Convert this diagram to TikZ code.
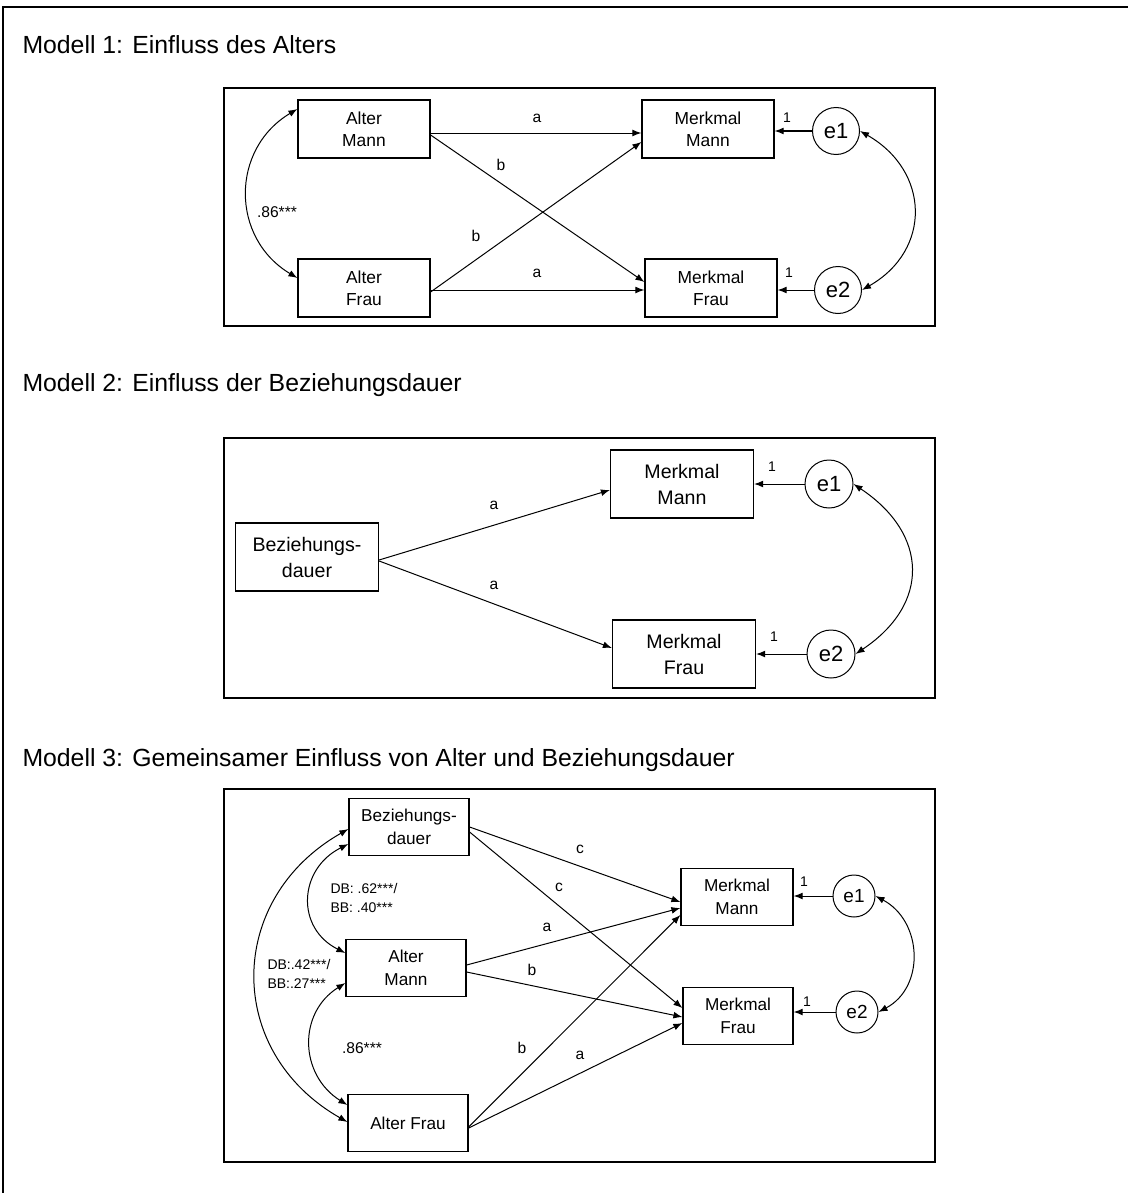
\documentclass[tikz,border=0pt]{standalone}
\usepackage{fontspec}
\setmainfont{Liberation Sans}
\usetikzlibrary{arrows.meta}

\begin{document}
\begin{tikzpicture}[x=0.5pt,y=-0.5pt,line width=0.5pt,
    >={Latex[length=4.5pt,width=3.4pt]},
    frame/.style={line width=1pt},
    titel/.style={anchor=west,inner sep=0pt,font=\fontsize{12.4}{14}\selectfont},
    kasten/.style={draw,line width=0.6pt,align=center,inner sep=0pt},
    boxa/.style={kasten,minimum width=66pt,minimum height=29pt,font=\fontsize{8.7}{11}\selectfont},
    boxb/.style={kasten,minimum width=71.5pt,minimum height=34pt,font=\fontsize{9.8}{13}\selectfont},
    boxc/.style={kasten,minimum width=60pt,minimum height=28.5pt,font=\fontsize{8.6}{11.5}\selectfont},
    erra/.style={draw,circle,inner sep=0pt,minimum size=23.5pt,font=\fontsize{11}{13}\selectfont},
    errb/.style={erra,minimum size=24pt},
    errc/.style={erra,minimum size=21pt,font=\fontsize{9.5}{11}\selectfont},
    lab/.style={inner sep=0pt,font=\fontsize{7.8}{9}\selectfont},
    eins/.style={inner sep=0pt,font=\fontsize{7}{8}\selectfont},
    korr/.style={anchor=west,inner sep=0pt,align=left,font=\fontsize{7}{9.5}\selectfont}]
  \useasboundingbox (0,0) rectangle (1128,1193);
  \draw[line width=1pt] (1128,7) -- (3,7) -- (3,1193);

  % Modell 1
  \node[titel] (t1) at (22,45) {Modell 1: Einfluss des Alters};
  \draw[frame] (224,88) rectangle (935,326);
  \node[boxa] (am1) at (364,129) {Alter\\Mann};
  \node[boxa] (af1) at (364,288) {Alter\\Frau};
  \node[boxa] (mm1) at (708,129) {Merkmal\\Mann};
  \node[boxa] (mf1) at (711,288) {Merkmal\\Frau};
  \node[erra] (ea1) at (836,131) {e1};
  \node[erra] (eb1) at (838,290) {e2};
  \draw[->] ([yshift=-2pt]am1.east) -- ([yshift=-2pt]mm1.west);
  \draw[->] ([yshift=-3pt]am1.east) -- ([yshift=3pt]mf1.west);
  \draw[->] ([yshift=-2pt]af1.east) -- ([yshift=-6.5pt]mm1.west);
  \draw[->] ([yshift=-1pt]af1.east) -- ([yshift=-1pt]mf1.west);
  \draw[->] (ea1.west) -- (ea1.west -| mm1.east);
  \draw[->] (eb1.west) -- (eb1.west -| mf1.east);
  \draw[<->] ([yshift=10pt]am1.west) .. controls +(-67,40) and +(-67,-40) .. ([yshift=5pt]af1.west);
  \draw[<->] (ea1.east) .. controls +(70,40) and +(70,-40) .. (eb1.east);
  \node[lab] (l11) at (537,118) {a};
  \node[lab] (l12) at (501,165) {b};
  \node[lab] (l13) at (476,236) {b};
  \node[lab] (l14) at (537,273) {a};
  \node[lab] (k1) at (277,212) {.86***};
  \node[eins] (n11) at (787,118) {1};
  \node[eins] (n12) at (789,273) {1};

  % Modell 2
  \node[titel] (t2) at (22,385) {Modell 2: Einfluss der Beziehungsdauer};
  \draw[frame] (224,438) rectangle (935,698);
  \node[boxb] (bd2) at (307,557) {Beziehungs-\\dauer};
  \node[boxb] (mm2) at (682,484) {Merkmal\\Mann};
  \node[boxb] (mf2) at (684,654) {Merkmal\\Frau};
  \node[errb] (ea2) at (829,484) {e1};
  \node[errb] (eb2) at (831,654) {e2};
  \draw[->] ([yshift=-1.5pt]bd2.east) -- ([yshift=-3pt]mm2.west);
  \draw[->] ([yshift=-2pt]bd2.east) -- ([yshift=3pt]mf2.west);
  \draw[->] (ea2.west) -- (ea2.west -| mm2.east);
  \draw[->] (eb2.west) -- (eb2.west -| mf2.east);
  \draw[<->] (ea2.east) .. controls +(75,50) and +(75,-50) .. (eb2.east);
  \node[lab] (l21) at (494,505) {a};
  \node[lab] (l22) at (494,585) {a};
  \node[eins] (n21) at (772,467) {1};
  \node[eins] (n22) at (774,637) {1};

  % Modell 3
  \node[titel] (t3) at (22,760) {Modell 3: Gemeinsamer Einfluss von Alter und Beziehungsdauer};
  \draw[frame] (224,789) rectangle (935,1162);
  \node[boxc] (bd3) at (409,827) {Beziehungs-\\dauer};
  \node[boxc] (am3) at (406,968) {Alter\\Mann};
  \node[boxc] (af3) at (408,1123) {Alter Frau};
  \node[boxc,minimum width=56pt] (mm3) at (737,897) {Merkmal\\Mann};
  \node[boxc,minimum width=55pt] (mf3) at (738,1016) {Merkmal\\Frau};
  \node[errc] (ea3) at (854,896) {e1};
  \node[errc] (eb3) at (857,1012) {e2};
  \draw[->] (bd3.east) -- ([yshift=-2.5pt]mm3.west);
  \draw[->] ([yshift=-2.5pt]bd3.east) -- ([yshift=4pt]mf3.west);
  \draw[->] ([yshift=1.5pt]am3.east) -- ([yshift=-5.5pt]mm3.west);
  \draw[->] ([yshift=-2pt]am3.east) -- ([yshift=-0.5pt]mf3.west);
  \draw[->] ([yshift=-2pt]af3.east) -- ([yshift=-9pt]mm3.west);
  \draw[->] ([yshift=-2.5pt]af3.east) -- ([yshift=-3.5pt]mf3.west);
  \draw[->] (ea3.west) -- (ea3.west -| mm3.east);
  \draw[->] (eb3.west) -- (eb3.west -| mf3.east);
  \draw[<->] ([yshift=-1pt]bd3.west) .. controls +(-123,70) and +(-123,-70) .. ([yshift=0.5pt]af3.west);
  \draw[<->] ([yshift=-8.5pt]bd3.west) .. controls +(-50,25) and +(-50,-25) .. ([yshift=7.5pt]am3.west);
  \draw[<->] ([yshift=-7.5pt]am3.west) .. controls +(-48,30) and +(-48,-30) .. ([yshift=9pt]af3.west);
  \draw[<->] (ea3.east) .. controls +(47,25) and +(47,-25) .. (eb3.east);
  \node[lab] (l31) at (580,849) {c};
  \node[lab] (l32) at (559,887) {c};
  \node[lab] (l33) at (547,927) {a};
  \node[lab] (l34) at (532,970) {b};
  \node[lab] (l35) at (522,1048) {b};
  \node[lab] (l36) at (580,1055) {a};
  \node[korr] (k31) at (330,898) {DB: .62***/\\BB: .40***};
  \node[korr] (k32) at (267,974) {DB:.42***/\\BB:.27***};
  \node[lab] (k33) at (362,1048) {.86***};
  \node[eins] (n31) at (804,882) {1};
  \node[eins] (n32) at (807,1002) {1};
\end{tikzpicture}
\end{document}
